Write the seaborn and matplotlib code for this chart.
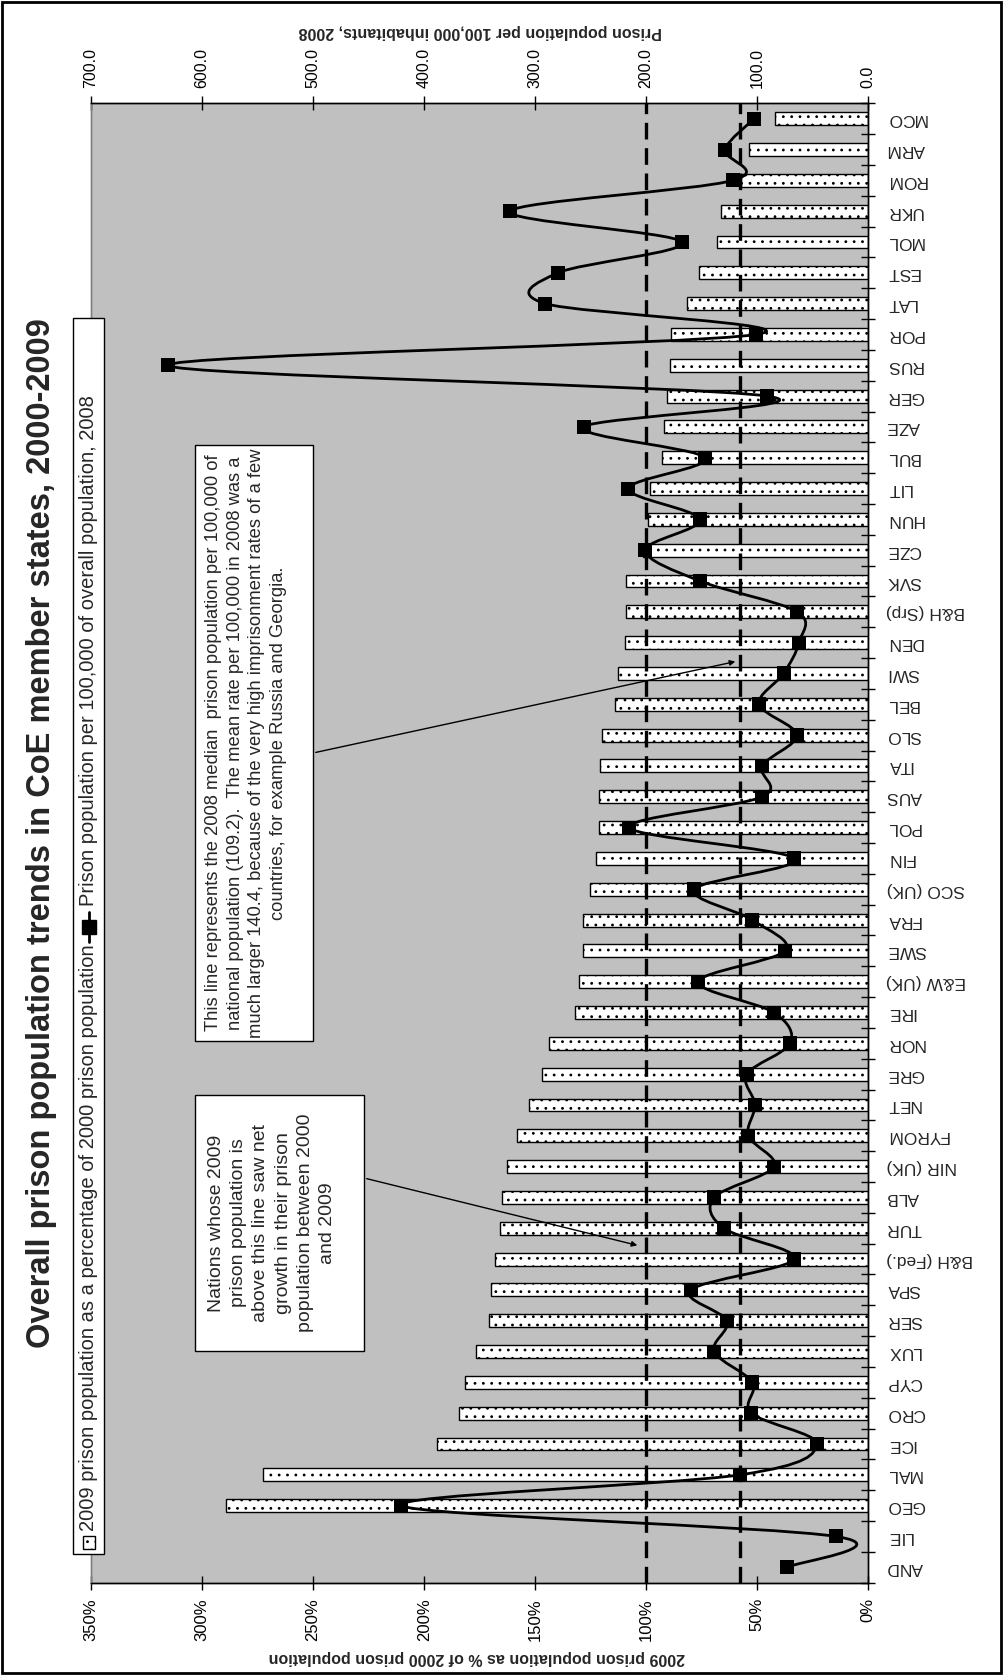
import numpy as np
import pandas as pd
import seaborn as sns
import matplotlib.pyplot as plt
from matplotlib.patches import Rectangle, PathPatch, FancyArrowPatch
from matplotlib.path import Path
from matplotlib.lines import Line2D

countries = ['AND', 'LIE', 'GEO', 'MAL', 'ICE', 'CRO', 'CYP', 'LUX', 'SER', 'SPA',
             'B&H (Fed.)', 'TUR', 'ALB', 'NIR (UK)', 'FYROM', 'NET', 'GRE', 'NOR',
             'IRE', 'E&W (UK)', 'SWE', 'FRA', 'SCO (UK)', 'FIN', 'POL', 'AUS', 'ITA',
             'SLO', 'BEL', 'SWI', 'DEN', 'B&H (Srp)', 'SVK', 'CZE', 'HUN', 'LIT',
             'BUL', 'AZE', 'GER', 'RUS', 'POR', 'LAT', 'EST', 'MOL', 'UKR', 'ROM',
             'ARM', 'MCO']
# 2009 prison population as % of 2000 prison population
pct_2009_of_2000 = [np.nan, np.nan, 289.1, 272.5, 194.2, 184.5, 181.8, 176.5, 171.0, 169.8,
                    168.2, 165.7, 165.0, 162.5, 158.1, 152.8, 147.1, 143.6,
                    132.1, 130.3, 128.4, 128.4, 125.2, 122.5, 121.1, 121.1, 120.6,
                    119.9, 114.2, 112.6, 109.6, 108.9, 108.9, 101.6, 99.3, 98.1,
                    92.8, 92.1, 90.5, 89.4, 88.9, 81.6, 76.1, 68.0, 66.4, 57.4,
                    53.8, 42.0]
# prison population per 100,000, 2008
rate_2008 = [73.1, 29.0, 420.5, 115.5, 46.4, 105.2, 104.3, 138.8, 127.3, 159.9,
             66.6, 130.1, 138.8, 85.0, 108.0, 102.0, 109.4, 70.3,
             85.0, 153.0, 74.9, 104.3, 156.7, 66.6, 215.1, 95.6, 95.6,
             64.3, 98.3, 76.3, 62.5, 63.9, 151.7, 200.8, 151.7, 216.0,
             147.1, 256.4, 91.0, 630.5, 101.1, 290.9, 279.4, 167.7, 322.6, 121.8,
             129.1, 102.9]
pct_ticks = [0, 50, 100, 150, 200, 250, 300, 350]
rate_ticks = [0, 100, 200, 300, 400, 500, 600, 700]
growth_line_pct = 100      # 2009 = 2000
median_line_rate = 115.8   # where the "median" dashed line is drawn

title = 'Overall prison population trends in CoE member states, 2000-2009'
bar_label = '2009 prison population as a percentage of 2000 prison population'
line_label = 'Prison population per 100,000 of overall population, 2008'
note_median = ('This line represents the 2008 median  prison population per 100,000 of\n'
               'national population (109.2).  The mean rate per 100,000 in 2008 was a\n'
               'much larger 140.4, because of the very high imprisonment rates of a few\n'
               'countries, for example Russia and Georgia.')
note_growth = ('Nations whose 2009\nprison population is\nabove this line saw net\n'
               'growth in their prison\npopulation between 2000\nand 2009')

W, H = 1005, 1675
def fx(x):
    return x / W
def fy(y):
    return 1 - y / H

sns.set_theme(style='white')
plt.rcParams['font.family'] = ['Liberation Sans', 'DejaVu Sans']
plt.rcParams['hatch.color'] = '#7a7a7a'
plt.rcParams['hatch.linewidth'] = 0.8

fig = plt.figure(figsize=(W / 100, H / 100), dpi=100)
ax = fig.add_axes([fx(91), fy(1582.7), (868.3 - 91) / W, (1582.7 - 103.3) / H])
ax.set_facecolor('#c0c0c0')

df = pd.DataFrame({'country': countries, 'pct': pct_2009_of_2000, 'rate': rate_2008})
df['pos'] = np.arange(len(df))
n = len(df)

sns.barplot(data=df, x='pct', y='country', order=countries, orient='h', color='white',
            saturation=1, edgecolor='black', linewidth=1, width=0.42, hatch='..',
            ax=ax, zorder=2)
ax.axvline(growth_line_pct, color='black', lw=2.4, dashes=(5, 2.6), zorder=3)

ax2 = ax.twiny()
ax2.axvline(median_line_rate, color='black', lw=2.4, dashes=(5, 2.6), zorder=1)

# smoothed line (Bezier through the points, like the spreadsheet's smoothed line)
pts = df[['rate', 'pos']].to_numpy(dtype=float)
verts = [pts[0]]
codes = [Path.MOVETO]
for i in range(n - 1):
    p0 = pts[max(i - 1, 0)]
    p1 = pts[i]
    p2 = pts[i + 1]
    p3 = pts[min(i + 2, n - 1)]
    verts += [p1 + (p2 - p0) / 6, p2 - (p3 - p1) / 6, p2]
    codes += [Path.CURVE4] * 3
ax2.add_patch(PathPatch(Path(verts, codes), fill=False, lw=2, edgecolor='black', zorder=4))
sns.scatterplot(data=df, x='rate', y='pos', marker='s', s=95, color='black',
                edgecolor='black', linewidth=0, ax=ax2, zorder=5, legend=False)

ax.set_xlim(350, 0)
ax2.set_xlim(700, 0)
ax.set_ylim(-0.5, n - 0.5)

ax.set_xticks(pct_ticks)
ax.set_xticklabels([f'{t}%' for t in pct_ticks], rotation=90, fontsize=12)
ax.tick_params(axis='x', direction='inout', length=10, width=1, pad=6, colors='black',
               bottom=True, top=False)
ax2.set_xticks(rate_ticks)
ax2.set_xticklabels([f'{t:.1f}' for t in rate_ticks], rotation=90, fontsize=11.5)
ax2.tick_params(axis='x', direction='inout', length=10, width=1, pad=6, colors='black')

ax.yaxis.tick_right()
ax.set_yticks(range(n))
ax.set_yticklabels(countries, rotation=180, fontsize=12.5, va='center')
ax.set_yticks(np.arange(-0.5, n), minor=True)
ax.tick_params(axis='y', which='major', length=0, pad=13, right=True, left=False)
ax.tick_params(axis='y', which='minor', direction='inout', length=10, width=1,
               right=True, left=False, colors='black')
for a in (ax, ax2):
    a.set_xlabel('')
    a.set_ylabel('')
    for s in a.spines.values():
        s.set_color('black')
        s.set_linewidth(1)
    a.spines['left'].set_color('#808080')

fig.text(fx(477), fy(1657), '2009 prison population as % of 2000 prison population',
         rotation=180, ha='center', va='center', fontsize=11.5, weight='bold')
fig.text(fx(480), fy(32), 'Prison population per 100,000 inhabitants, 2008',
         rotation=180, ha='center', va='center', fontsize=11.5, weight='bold')
fig.text(fx(42), fy(833), title, rotation=90, ha='center', va='center',
         fontsize=23.5, weight='bold')

# legend (drawn rotated like the rest of the chart)
fig.add_artist(Rectangle((fx(72.7), fy(1554)), (104.3 - 72.7) / W, (1554 - 318) / H,
                         transform=fig.transFigure, facecolor='white', edgecolor='black',
                         lw=1, zorder=5))
fig.add_artist(Rectangle((fx(82.5), fy(1549)), 12 / W, 13 / H, transform=fig.transFigure,
                         facecolor='white', edgecolor='black', lw=1, hatch='..', zorder=6))
fig.text(fx(88.5), fy(1531), bar_label, rotation=90, ha='center', va='bottom',
         fontsize=14.5, zorder=7)
fig.add_artist(Line2D([fx(88.5), fx(88.5)], [fy(942), fy(912)], transform=fig.transFigure,
                      color='black', lw=2, zorder=6))
fig.add_artist(Line2D([fx(88.5)], [fy(927)], transform=fig.transFigure, color='black',
                      marker='s', ms=9.4, lw=0, zorder=7))
fig.text(fx(88.5), fy(906), line_label, rotation=90, ha='center', va='bottom',
         fontsize=14.5, zorder=7)

# annotation boxes
fig.add_artist(Rectangle((fx(195), fy(1041)), (313 - 195) / W, (1041 - 445) / H,
                         transform=fig.transFigure, facecolor='white', edgecolor='black',
                         lw=1, zorder=5))
fig.text(fx(246), fy(743), note_median, rotation=90, ha='center', va='center',
         multialignment='center', fontsize=13.2, linespacing=1.35, zorder=7)
fig.add_artist(Rectangle((fx(195), fy(1351)), (364 - 195) / W, (1351 - 1095) / H,
                         transform=fig.transFigure, facecolor='white', edgecolor='black',
                         lw=1, zorder=5))
fig.text(fx(272), fy(1223), note_growth, rotation=90, ha='center', va='center',
         multialignment='center', fontsize=14, linespacing=1.4, zorder=7)
fig.add_artist(FancyArrowPatch((fx(313), fy(753)), (fx(738), fy(661)),
                               transform=fig.transFigure, arrowstyle='-|>',
                               mutation_scale=8, lw=1, color='black', zorder=6))
fig.add_artist(FancyArrowPatch((fx(364), fy(1178)), (fx(640), fy(1246)),
                               transform=fig.transFigure, arrowstyle='-|>',
                               mutation_scale=8, lw=1, color='black', zorder=6))

# outer chart border
fig.add_artist(Rectangle((fx(2), fy(1673)), (1001 - 2) / W, (1673 - 2) / H,
                         transform=fig.transFigure, fill=False, edgecolor='black', lw=2))

fig.savefig('out.png', dpi=100)
